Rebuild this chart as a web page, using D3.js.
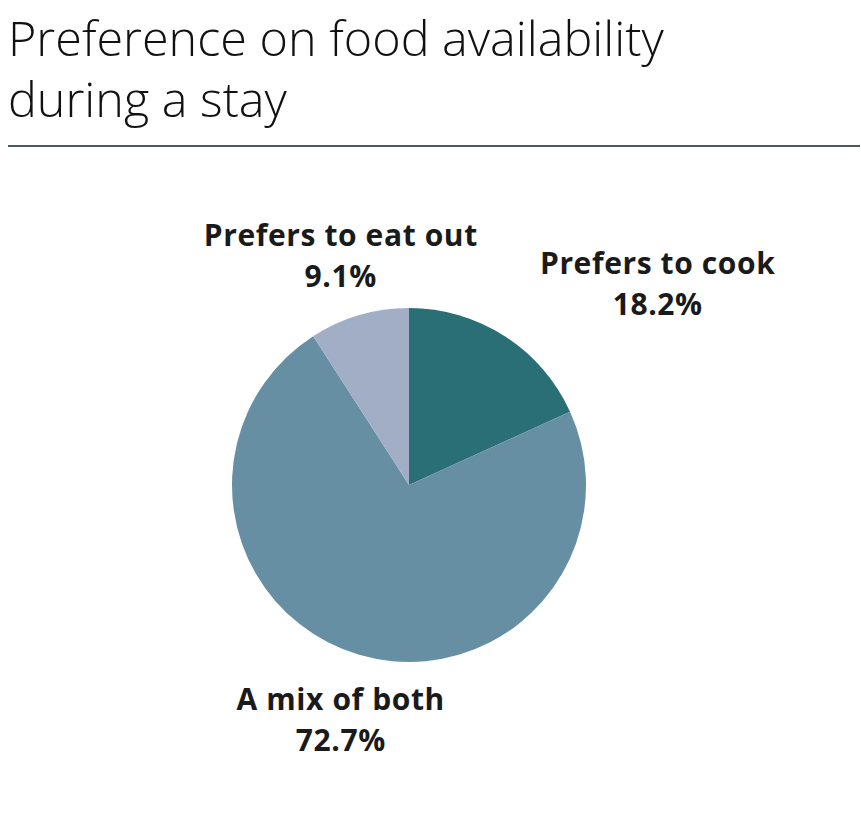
<!DOCTYPE html>
<html>
<head>
<meta charset="utf-8">
<script src="https://cdn.jsdelivr.net/npm/d3@7"></script>
<style>
  body { margin: 0; background: #fff; }
  svg { display: block; font-family: "Open Sans", sans-serif; }
</style>
</head>
<body>
<svg id="chart"></svg>
<script>
// chart data
const categories = ['Prefers to cook', 'A mix of both', 'Prefers to eat out']
const shares = [18.2, 72.7, 9.1]
const colors = ['#2a6f75', '#678fa3', '#a1aec6']
const titleLines = ['Preference on food availability', 'during a stay']

const width = 861
const height = 834
const cx = 409
const cy = 485
const radius = 177
const labelRadius = 242

let svg = d3.select('#chart')
    .attr('width', width)
    .attr('height', height)

// title
svg.append('g').selectAll('text')
    .data(titleLines)
    .join('text')
    .attr('x', 8)
    .attr('y', (d, i) => 56 + i * 61)
    .attr('font-size', '48.5px')
    .attr('font-weight', 300)
    .attr('fill', '#111')
    .text(d => d)

svg.append('line')
    .attr('x1', 8).attr('x2', 860)
    .attr('y1', 146).attr('y2', 146)
    .attr('stroke', '#4b5a62')
    .attr('stroke-width', 2)

let data = categories.map((c, i) => ({name: c, value: shares[i], color: colors[i]}))

let pie = d3.pie().sort(null).value(d => d.value)
let arc = d3.arc().innerRadius(0).outerRadius(radius)
let labelArc = d3.arc().innerRadius(labelRadius).outerRadius(labelRadius)

let g = svg.append('g')
    .attr('transform', `translate(${cx},${cy})`)

g.selectAll('path')
    .data(pie(data))
    .join('path')
    .attr('d', arc)
    .attr('fill', d => d.data.color)

// labels centred on the slice direction
let labels = g.selectAll('text.label')
    .data(pie(data))
    .join('text')
    .attr('class', 'label')
    .attr('font-size', '30px')
    .attr('font-weight', 700)
    .attr('letter-spacing', '0.6px')
    .attr('fill', '#1a1a1a')
    .attr('text-anchor', 'middle')

labels.append('tspan')
    .attr('x', 0)
    .attr('y', -7)
    .text(d => d.data.name)

labels.append('tspan')
    .attr('x', 0)
    .attr('y', 34)
    .text(d => d.data.value.toFixed(1) + '%')

// push side labels outward so they clear the pie
labels.attr('transform', function (d) {
    let [x, y] = labelArc.centroid(d)
    let a = (d.startAngle + d.endAngle) / 2 * 180 / Math.PI
    let w = this.getBBox().width
    if (a > 20 && a < 160) x += w / 2
    if (a > 200 && a < 340) x -= w / 2
    return `translate(${x},${y})`
})
</script>
</body>
</html>
